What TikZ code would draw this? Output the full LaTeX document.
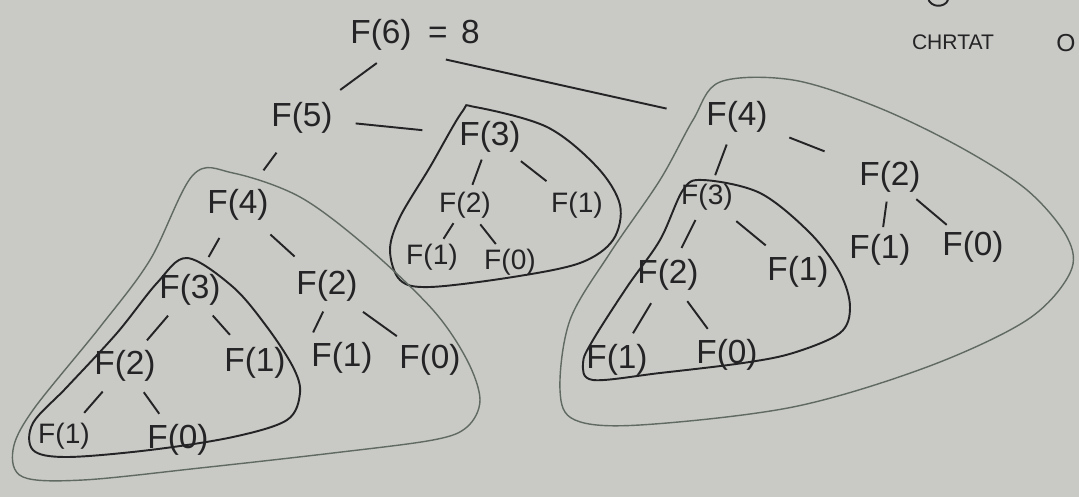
\documentclass[tikz,border=0pt]{standalone}
\usepackage{fontspec}
\setmainfont{Liberation Sans}
\usepackage{tikz}
\usetikzlibrary{calc}

\definecolor{paper}{RGB}{201,201,197}
\definecolor{ink}{RGB}{36,36,38}
\definecolor{pencil}{RGB}{96,106,99}

\begin{document}
\begin{tikzpicture}[x=0.02cm, y=-0.02cm, font=\fontsize{19}{22}\selectfont,
    call/.style={text=ink, inner sep=1pt},
    small/.style={call, font=\fontsize{16}{18}\selectfont},
    link/.style={ink, line width=1.1pt, shorten <=10pt, shorten >=10pt},
    blob/.style={ink, line width=1.1pt},
    hull/.style={pencil, line width=0.8pt}]
    \fill[paper] (0,0) rectangle (1079,497);
    \useasboundingbox (0,0) rectangle (1079,497);

    % calls
    \node[call] (f6) at (415,35) {F(6)\hspace{0.5em}=\hspace{0.4em}8};
    \node[call] (f5) at (302,118) {F(5)};

    \node[call] (m3) at (490,137) {F(3)};
    \node[small] (m2) at (465,205) {F(2)};
    \node[small] (m1) at (577,205) {F(1)};
    \node[small] (m21) at (432,257) {F(1)};
    \node[small] (m20) at (510,262) {F(0)};

    \node[call] (l4) at (238,205) {F(4)};
    \node[call] (l43) at (190,290) {F(3)};
    \node[call] (l42) at (327,286) {F(2)};
    \node[call] (l432) at (125,366) {F(2)};
    \node[call] (l431) at (255,363) {F(1)};
    \node[call] (l421) at (342,358) {F(1)};
    \node[call] (l420) at (430,360) {F(0)};
    \node[small] (l4321) at (64,436) {F(1)};
    \node[call] (l4320) at (178,440) {F(0)};

    \node[call] (r4) at (737,117) {F(4)};
    \node[small] (r43) at (707,197) {F(3)};
    \node[call] (r42) at (890,177) {F(2)};
    \node[call] (r432) at (668,275) {F(2)};
    \node[call] (r431) at (798,272) {F(1)};
    \node[call] (r421) at (880,250) {F(1)};
    \node[call] (r420) at (973,247) {F(0)};
    \node[call] (r4321) at (617,360) {F(1)};
    \node[call] (r4320) at (727,355) {F(0)};

    \node[call, font=\fontsize{12}{14}\selectfont] (note) at (953,42) {CHRTAT};
    \node[call, font=\fontsize{14}{16}\selectfont] (note2) at (1066,43) {O};
    \draw[blob] (928,-2) .. controls (930,8) and (945,8) .. (948,0);

    % links
    \draw[link] (f6) -- (f5);
    \draw[link, shorten <=18pt, shorten >=22pt] (f6.south) -- (r4.west);
    \draw[link, shorten <=12pt, shorten >=20pt] (f5) -- (m3);
    \draw[link, shorten <=12pt, shorten >=12pt] (f5) -- (l4);

    \draw[link, shorten <=3pt, shorten >=3pt] (m3) -- (m2);
    \draw[link, shorten <=6pt, shorten >=8pt] (m3) -- (m1);
    \draw[link, shorten <=2pt, shorten >=2pt] (m2) -- (m21);
    \draw[link, shorten <=3pt, shorten >=2pt] (m2) -- (m20);

    \draw[link] (l4) -- (l43);
    \draw[link] (l4) -- (l42);
    \draw[link, shorten <=6pt, shorten >=6pt] (l43) -- (l432);
    \draw[link, shorten <=6pt, shorten >=8pt] (l43) -- (l431);
    \draw[link, shorten <=5pt, shorten >=5pt] (l42.south) -- (l421.north west);
    \draw[link, shorten <=8pt, shorten >=6pt] (l42) -- (l420);
    \draw[link, shorten <=6pt, shorten >=6pt] (l432) -- (l4321);
    \draw[link, shorten <=6pt, shorten >=6pt] (l432) -- (l4320);

    \draw[link, shorten <=6pt, shorten >=4pt] (r4) -- (r43);
    \draw[link, shorten <=12pt, shorten >=20pt] (r4) -- (r42);
    \draw[link, shorten <=5pt, shorten >=6pt] (r43) -- (r432);
    \draw[link, shorten <=8pt, shorten >=8pt] (r43) -- (r431);
    \draw[link, shorten <=4pt, shorten >=3pt] (r42) -- (r421);
    \draw[link, shorten <=4pt, shorten >=4pt] (r42) -- (r420);
    \draw[link, shorten <=7pt, shorten >=6pt] (r432) -- (r4321);
    \draw[link, shorten <=6pt, shorten >=6pt] (r432) -- (r4320);

    % groups
    \draw[blob] plot[smooth cycle, tension=0.55] coordinates {(462,112) (475,107)
        (547,127) (597,167) (620,205) (613,240) (580,263) (513,277) (430,287)
        (400,280) (390,250) (400,217) (430,167)};
    \draw[blob] plot[smooth cycle, tension=0.55] coordinates {(187,258) (233,287)
        (267,327) (293,367) (300,393) (287,420) (233,437) (150,450) (67,457)
        (33,450) (33,423) (67,387) (117,333) (157,283)};
    \draw[hull] plot[smooth cycle, tension=0.55] coordinates {(193,175) (233,173)
        (300,197) (367,247) (433,310) (467,360) (480,400) (467,427) (433,440)
        (333,453) (200,468) (83,480) (23,477) (13,450) (33,410) (100,327) (150,260)};
    \draw[blob] plot[smooth cycle, tension=0.55] coordinates {(703,180) (760,193)
        (810,233) (840,273) (850,307) (840,333) (793,353) (743,363) (660,373)
        (593,380) (583,363) (593,340) (627,287) (660,240) (683,190)};
    \draw[hull] plot[smooth cycle, tension=0.55] coordinates {(720,82) (793,80)
        (877,107) (960,147) (1027,190) (1067,237) (1070,273) (1027,320) (927,367)
        (793,407) (640,425) (575,420) (560,390) (570,320) (610,253) (660,180) (693,120)};
\end{tikzpicture}
\end{document}
